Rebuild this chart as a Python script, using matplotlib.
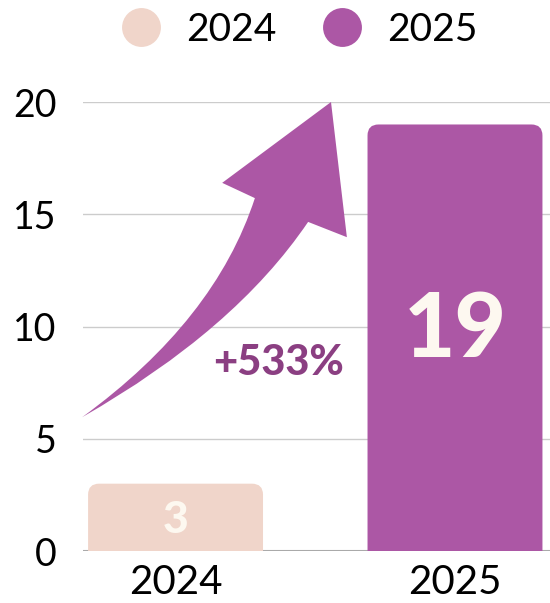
import matplotlib
matplotlib.use('Agg')
import matplotlib.pyplot as plt
from matplotlib.patches import FancyBboxPatch, PathPatch
from matplotlib.path import Path
from matplotlib.lines import Line2D

years = ['2024', '2025']
values = [3, 19]
colors = ['#F0D5CA', '#AC57A5']
yticks = [0, 5, 10, 15, 20]

plt.rcParams['font.family'] = ['Lato', 'DejaVu Sans']

fig = plt.figure(figsize=(5.5, 6.03), dpi=100)
ax = fig.add_axes([0.151, 0.0862, 0.849, 0.7446])

xs = list(range(len(years)))
width = 0.626
ax.set_xlim(-0.331, 1.34)
ax.set_ylim(0, 20)

# rounded-top bars: correct the rounding for the axes aspect
fig.canvas.draw()
bb = ax.get_window_extent()
px_x = bb.width / (1.34 + 0.331)
px_y = bb.height / 20
aspect = px_x / px_y
r = 11 / px_x
for x, v, c in zip(xs, values, colors):
    p = FancyBboxPatch((x - width / 2, -2), width, v + 2,
                       boxstyle='round,pad=0,rounding_size=%f' % r,
                       mutation_aspect=aspect, fc=c, ec='none', zorder=3)
    ax.add_patch(p)

ax.axhline(0, color='#aaaaaa', lw=1.5, zorder=1)
ax.set_yticks(yticks)
ax.yaxis.grid(True, color='#cccccc', lw=1)
ax.set_axisbelow(True)
for s in ax.spines.values():
    s.set_visible(False)
ax.tick_params(axis='y', length=0, pad=19, labelsize=27)
ax.tick_params(axis='x', length=0, pad=9, labelsize=29)
ax.set_xticks(xs)
ax.set_xticklabels(years)

# value labels
ax.text(xs[0], values[0] / 2 - 0.1, str(values[0]), ha='center', va='center',
        color='#FDF8F0', fontsize=32, fontweight='black', zorder=5)
ax.text(xs[1], values[1] / 2 + 0.3, str(values[1]), ha='center', va='center',
        color='#FDF8F0', fontsize=64, fontweight='black', zorder=5)

# growth arrow (axes fraction)
verts = [(-0.002, 0.298), (0.283, 0.514), (0.368, 0.786),
         (0.298, 0.820), (0.531, 1.0), (0.565, 0.699), (0.482, 0.733),
         (0.325, 0.492), (-0.002, 0.298), (-0.002, 0.298)]
codes = [Path.MOVETO, Path.CURVE3, Path.CURVE3,
         Path.LINETO, Path.LINETO, Path.LINETO, Path.LINETO,
         Path.CURVE3, Path.CURVE3, Path.CLOSEPOLY]
ax.add_patch(PathPatch(Path(verts, codes), fc=colors[1], ec='none',
                       transform=ax.transAxes, clip_on=False, zorder=4))

pct = (values[1] - values[0]) / values[0] * 100
ax.text(0.367, 8.37, '+%d%%' % round(pct), ha='center', va='center',
        color='#8B3F82', fontsize=30, fontweight='black', zorder=5)

handles = [Line2D([], [], ls='none', marker='o', markersize=28,
                  mfc=c, mec='none') for c in colors]
fig.legend(handles, years, loc='upper center', bbox_to_anchor=(0.527, 1.032),
           ncol=2, frameon=False, fontsize=28, handletextpad=0.15,
           columnspacing=0.7, borderpad=0.3)

fig.savefig('out.png', dpi=100)
